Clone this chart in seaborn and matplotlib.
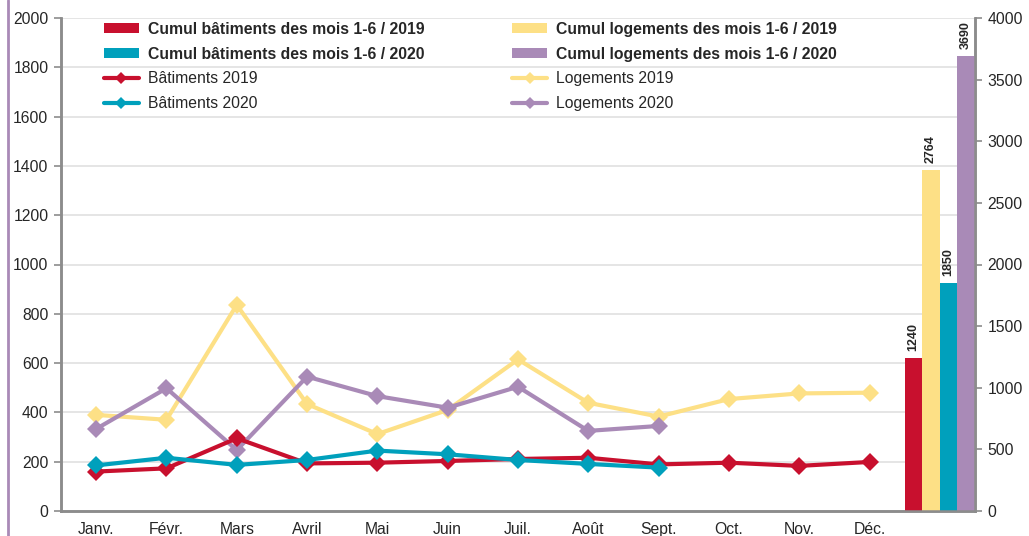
import numpy as np
import pandas as pd
import matplotlib
matplotlib.use("Agg")
import matplotlib.pyplot as plt
import seaborn as sns
from matplotlib.lines import Line2D
from matplotlib.patches import Patch

# --- data -------------------------------------------------------------
months = ["Janv.", "Févr.", "Mars", "Avril", "Mai", "Juin",
          "Juil.", "Août", "Sept.", "Oct.", "Nov.", "Déc."]

bat_2019 = [160, 173, 295, 193, 196, 203, 211, 216, 189, 196, 183, 199]
bat_2020 = [185, 216, 187, 207, 245, 230, 207, 191, 176]
log_2019 = [390, 370, 836, 434, 312, 410, 615, 439, 383, 454, 477, 480]
log_2020 = [333, 498, 247, 545, 466, 419, 504, 325, 345]

line_labels = ["Bâtiments 2019", "Bâtiments 2020", "Logements 2019", "Logements 2020"]

cumul_labels = ["Cumul bâtiments des mois 1-6 / 2019",
                "Cumul logements des mois 1-6 / 2019",
                "Cumul bâtiments des mois 1-6 / 2020",
                "Cumul logements des mois 1-6 / 2020"]
cumul_values = [1240, 2764, 1850, 3690]

left_ticks = [0, 200, 400, 600, 800, 1000, 1200, 1400, 1600, 1800, 2000]
right_ticks = [0, 500, 1000, 1500, 2000, 2500, 3000, 3500, 4000]

# --- style ------------------------------------------------------------
RED = "#C8102E"
YELLOW = "#FDE086"
TEAL = "#00A0BC"
PURPLE = "#A98AB7"
GRAY = "#8C8C8C"

sns.set_style("white")
plt.rcParams["font.family"] = ["Liberation Sans", "DejaVu Sans"]

fig = plt.figure(figsize=(10.29, 5.36), dpi=100)
ax = fig.add_axes([61 / 1029, 25 / 536, (975 - 61) / 1029, (511 - 18) / 536])
ax2 = ax.twinx()

# lines on left axis
series = [(log_2019, YELLOW, "Logements 2019"),
          (log_2020, PURPLE, "Logements 2020"),
          (bat_2019, RED, "Bâtiments 2019"),
          (bat_2020, TEAL, "Bâtiments 2020")]
for vals, col, lab in series:
    df = pd.DataFrame({"pos": np.arange(len(vals)), "val": vals})
    sns.lineplot(data=df, x="pos", y="val", ax=ax, color=col, marker="D",
                 markersize=9, markeredgewidth=0, linewidth=3, legend=False)

# cumulative bars on right axis, in a 13th slot after december
bars = pd.DataFrame({"slot": [len(months)] * len(cumul_values),
                     "val": cumul_values, "serie": cumul_labels})
sns.barplot(data=bars, x="slot", y="val", hue="serie", hue_order=cumul_labels,
            palette=[RED, YELLOW, TEAL, PURPLE], native_scale=True,
            width=1.0, gap=0, dodge=True, saturation=1, linewidth=0,
            legend=False, ax=ax2)
for cont in ax2.containers:
    ax2.bar_label(cont, rotation=90, fontsize=9, fontweight="bold", padding=5)

# axes formatting
ax.set_xlim(-0.5, len(months) + 0.5)
ax.set_ylim(0, 2000)
ax2.set_ylim(0, 4000)
ax.set_yticks(left_ticks)
ax2.set_yticks(right_ticks)
ax.set_xticks(np.arange(len(months)))
ax.set_xticklabels(months)
ax.set_xticks(np.arange(len(months) + 2) - 0.5, minor=True)
ax.tick_params(axis="x", which="major", length=0, pad=8, labelsize=11.3)
ax.tick_params(axis="x", which="minor", length=5, width=1.5, color=GRAY, direction="out")
ax.tick_params(axis="y", length=5, width=1.2, color=GRAY, labelsize=11.3, pad=4)
ax2.tick_params(axis="y", length=5, width=1.2, color=GRAY, labelsize=11.3, pad=4)
for a in (ax, ax2):
    a.set_xlabel("")
    a.set_ylabel("")
ax.yaxis.grid(True, color="#E3E3E3", linewidth=1.3)
ax.set_axisbelow(True)
ax2.grid(False)

for a in (ax, ax2):
    a.spines["top"].set_visible(False)
    for s in ("left", "right", "bottom"):
        a.spines[s].set_color(GRAY)
        a.spines[s].set_linewidth(1.8)

# legend (two columns)
def bar_handle(c):
    return Patch(facecolor=c, edgecolor="none")

def line_handle(c):
    return Line2D([0], [0], color=c, lw=3, marker="D", markersize=6, markeredgewidth=0)

handles = [bar_handle(RED), bar_handle(TEAL), line_handle(RED), line_handle(TEAL),
           bar_handle(YELLOW), bar_handle(PURPLE), line_handle(YELLOW), line_handle(PURPLE)]
labels = [cumul_labels[0], cumul_labels[2], line_labels[0], line_labels[1],
          cumul_labels[1], cumul_labels[3], line_labels[2], line_labels[3]]
leg = fig.legend(handles, labels, ncol=2, loc="upper left",
                 bbox_to_anchor=(104 / 1029, 1 - 22 / 536), frameon=False,
                 fontsize=11.3, handlelength=2.2, handleheight=0.6, handletextpad=0.6,
                 columnspacing=5.6, labelspacing=0.62, borderpad=0, borderaxespad=0)
for t in leg.get_texts():
    if t.get_text().startswith("Cumul"):
        t.set_fontweight("bold")

# outer frame line at left
fig.add_artist(Line2D([8 / 1029, 8 / 1029], [0, 1], color=PURPLE, lw=2,
                      transform=fig.transFigure))

fig.savefig("out.png", dpi=100)
